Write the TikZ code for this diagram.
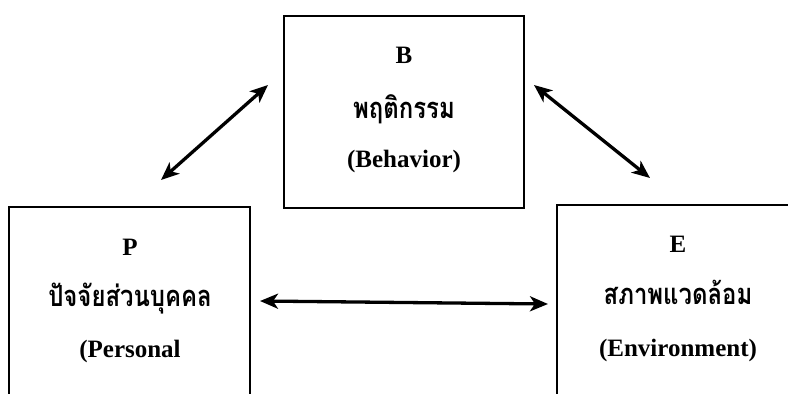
\documentclass[tikz,border=0pt]{standalone}
\usepackage{graphicx}
\usepackage{fontspec}
\setmainfont{Liberation Serif}
\newfontfamily\thaifont[Script=Thai]{Loma}
\usetikzlibrary{arrows.meta}
\newcommand{\thaitxt}[1]{\scalebox{0.92}[1.12]{\thaifont\bfseries #1}}
\tikzset{
  boxshape/.style={draw, line width=2pt, inner sep=0pt},
  lat/.style={anchor=base, inner sep=0pt, font=\fontsize{25}{29}\selectfont\bfseries},
  thai/.style={anchor=base, inner sep=0pt, font=\fontsize{26}{30}\selectfont},
  arr/.style={{Stealth[length=18pt,width=15pt,inset=5pt]}-{Stealth[length=18pt,width=15pt,inset=5pt]}, line width=3.3pt}
}
\begin{document}
\begin{tikzpicture}[x=1pt,y=-1pt]
\useasboundingbox (0,0) rectangle (788,394);
\clip (0,0) rectangle (788,394);
% boxes
\node[boxshape, minimum width=240pt, minimum height=192pt] (B) at (404,112) {};
\node[boxshape, minimum width=241pt, minimum height=213pt] (P) at (129.5,313.5) {};
\node[boxshape, minimum width=253pt, minimum height=215pt] (E) at (683.5,312.5) {};
% texts
\node[lat] (b1) at (404,63) {B};
\node[thai] (b2) at (404,118) {\thaitxt{พฤติกรรม}};
\node[lat] (b3) at (404,167) {(Behavior)};
\node[lat] (p1) at (130,255) {P};
\node[thai] (p2) at (130,306) {\thaitxt{ปัจจัยส่วนบุคคล}};
\node[lat] (p3) at (130,357) {(Personal};
\node[lat] (e1) at (678,252) {E};
\node[thai] (e2) at (678,304) {\thaitxt{สภาพแวดล้อม}};
\node[lat] (e3) at (678,356) {(Environment)};
% arrows
\coordinate (a1) at (161,180);
\coordinate (a2) at (268,85);
\coordinate (a3) at (534,85);
\coordinate (a4) at (650,178);
\coordinate (a5) at (260,301);
\coordinate (a6) at (548,304);
\draw[arr] (a1) -- (a2);
\draw[arr] (a3) -- (a4);
\draw[arr] (a5) -- (a6);
\end{tikzpicture}
\end{document}
